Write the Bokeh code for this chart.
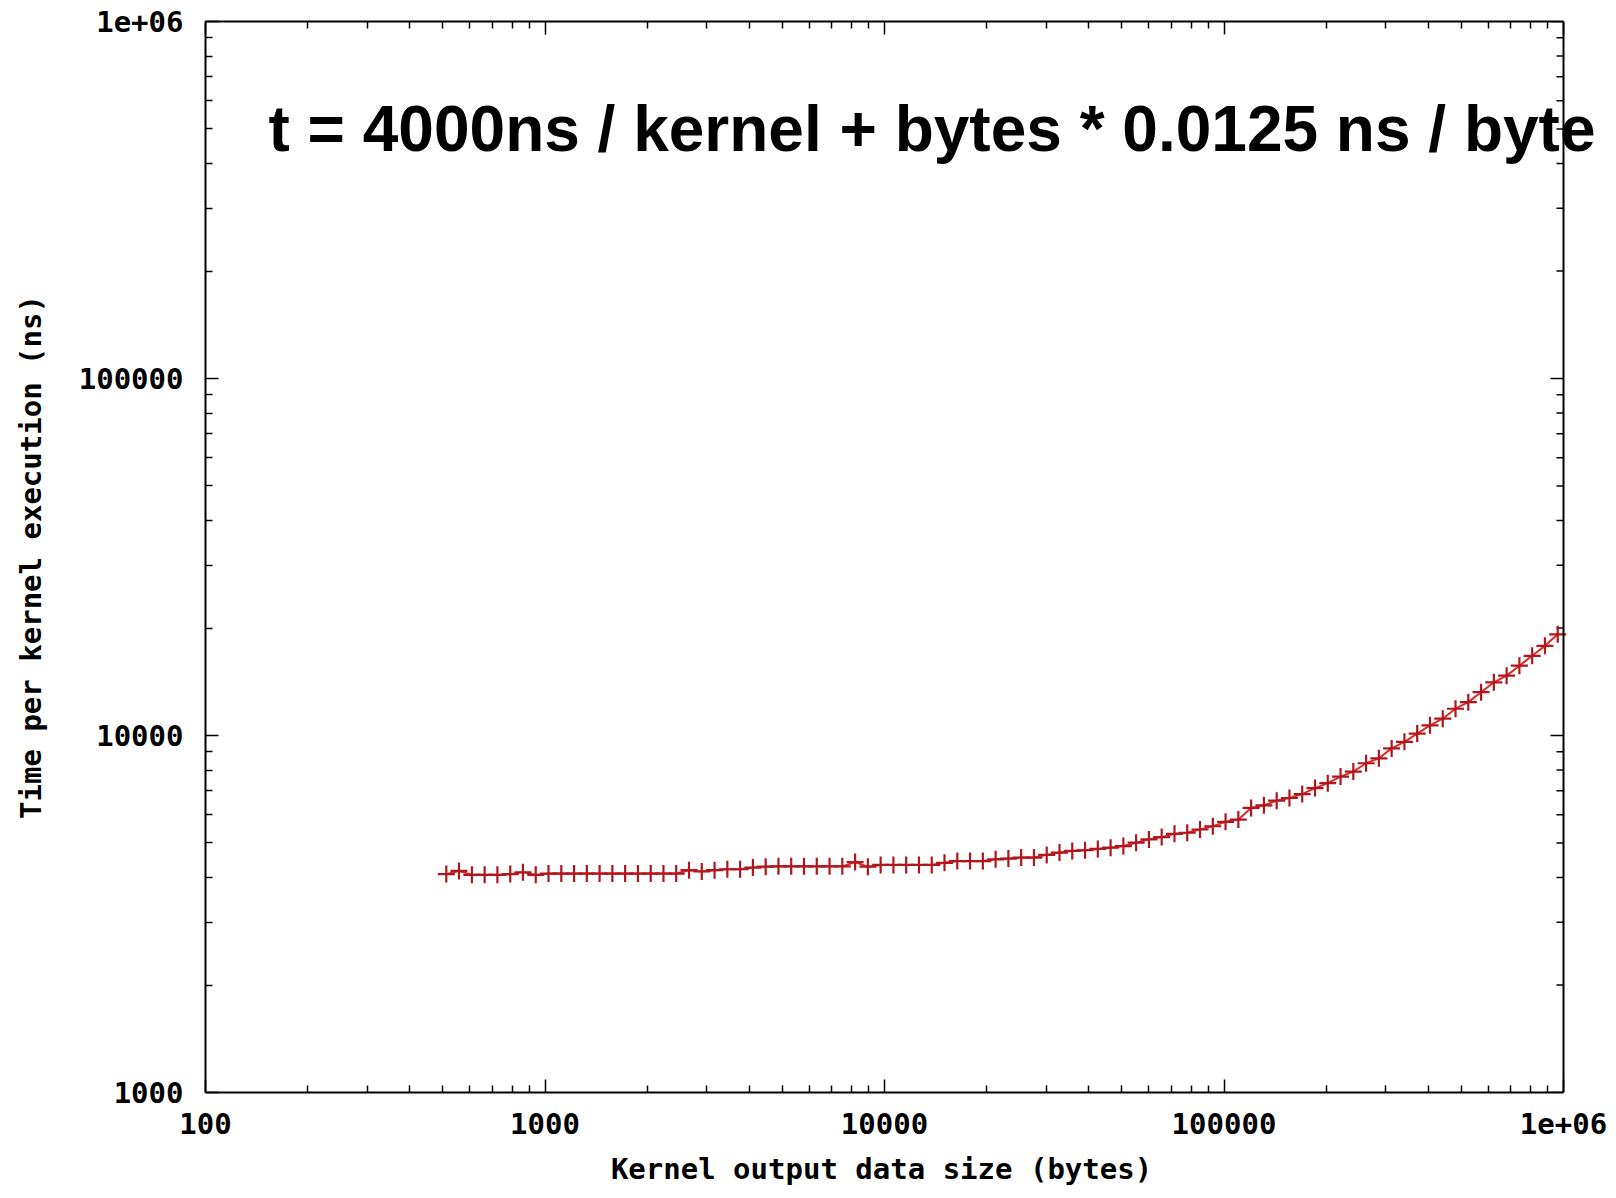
from bokeh.plotting import figure
from bokeh.models import LogAxis, FixedTicker, Label, BasicTickFormatter, ColumnDataSource, Span, Title
from bokeh.embed import file_html
from bokeh.resources import INLINE

# ---- data ----
x_bytes = [512, 558, 609, 664, 724, 790, 861, 939,
           1024, 1117, 1218, 1328, 1448, 1579, 1722, 1878,
           2048, 2233, 2435, 2656, 2896, 3158, 3444, 3756,
           4096, 4467, 4871, 5312, 5793, 6317, 6889, 7512,
           8192, 8933, 9742, 10624, 11585, 12634, 13777, 15024,
           16384, 17867, 19484, 21247, 23170, 25268, 27554, 30048,
           32768, 35734, 38968, 42495, 46341, 50535, 55109, 60097,
           65536, 71468, 77936, 84990, 92682, 101070, 110218, 120194,
           131072, 142935, 155872, 169979, 185364, 202141, 220436, 240387,
           262144, 285870, 311744, 339958, 370728, 404281, 440872, 480774,
           524288, 571740, 623487, 679917, 741455, 808563, 881744, 961548]

time_ns = [4090, 4175, 4070, 4070, 4070, 4090, 4140, 4070,
           4105, 4105, 4105, 4105, 4105, 4105, 4105, 4105,
           4105, 4105, 4105, 4195, 4160, 4195, 4220, 4220,
           4267, 4290, 4300, 4300, 4300, 4300, 4300, 4300,
           4420, 4290, 4340, 4340, 4340, 4340, 4340, 4400,
           4450, 4450, 4450, 4500, 4520, 4550, 4550, 4630,
           4700, 4750, 4770, 4810, 4851, 4902, 5008, 5117,
           5193, 5305, 5340, 5454, 5570, 5730, 5815, 6267,
           6373, 6568, 6682, 6855, 7122, 7355, 7672, 7922,
           8360, 8632, 9203, 9600, 10127, 10681, 11147, 11885,
           12400, 13220, 14094, 14712, 15686, 16723, 17828, 19210]

x_major = [100, 1000, 10000, 100000, 1000000]
x_major_labels = ["100", "1000", "10000", "100000", "1e+06"]
y_major = [1000, 10000, 100000, 1000000]
y_major_labels = ["1000", "10000", "100000", "1e+06"]
mantissas = [2, 3, 4, 5, 6, 7, 8, 9]

x_title = "Kernel output data size (bytes)"
y_title = "Time per kernel execution (ns)"
annotation = "t = 4000ns / kernel + bytes * 0.0125 ns / byte"

x_minor = [d * m for d in x_major[:-1] for m in mantissas]
y_minor = [d * m for d in y_major[:-1] for m in mantissas]

MONO = "DejaVu Sans Mono"
FS_PX = 29
FS = f"{FS_PX}px"

# ---- geometry (pixels) ----
W, H = 1616, 1198
LEFT, TOP, BOTTOM = 205, 21, 1100
AXIS_RIGHT = 1563          # where x = 1e6 sits (right border of the box)
FRAME_RIGHT = 1606         # frame extends a bit further so the annotation is not clipped
decade_px = (AXIS_RIGHT - LEFT) / 4.0
x_lo, x_hi = x_major[0], x_major[-1]
x_end = x_hi * 10 ** ((FRAME_RIGHT - AXIS_RIGHT) / decade_px)
MAJ, MIN = 13, 7

p = figure(width=W, height=H, x_axis_type="log", y_axis_type="log",
           x_range=(x_lo, x_end), y_range=(y_major[0], y_major[-1]),
           output_backend="svg", toolbar_location=None,
           min_border_left=LEFT, min_border_right=W - FRAME_RIGHT,
           min_border_top=TOP, min_border_bottom=H - BOTTOM)
p.grid.visible = False
p.outline_line_color = None
p.background_fill_color = "white"
p.border_fill_color = "white"


def style_axis(ax, ticks, minor, labels, show_labels):
    ax.ticker = FixedTicker(ticks=ticks, minor_ticks=minor)
    ax.formatter = BasicTickFormatter(use_scientific=False)
    ax.major_label_overrides = {t: l for t, l in zip(ticks, labels)}
    ax.major_tick_in = MAJ
    ax.major_tick_out = 0
    ax.minor_tick_in = MIN
    ax.minor_tick_out = 0
    ax.major_tick_line_color = "black"
    ax.minor_tick_line_color = "black"
    ax.major_tick_line_width = 1.5
    ax.minor_tick_line_width = 1.5
    ax.axis_line_color = "black"
    ax.axis_line_width = 2
    ax.major_label_text_font = MONO
    ax.major_label_text_font_style = "bold"
    ax.major_label_text_color = "black"
    ax.major_label_text_font_size = FS if show_labels else "0px"
    ax.axis_label_text_font = MONO
    ax.axis_label_text_font_style = "bold"
    ax.axis_label_text_font_size = FS
    ax.axis_label_text_color = "black"


xa = p.xaxis[0]
ya = p.yaxis[0]
style_axis(xa, x_major, x_minor, x_major_labels, True)
style_axis(ya, y_major, y_minor, y_major_labels, True)
xa.bounds = (x_lo, x_hi)
xa.major_label_text_line_height = 0.6
ya.axis_label = y_title
xa.major_label_standoff = 20
ya.major_label_standoff = 22
ya.axis_label_standoff = 28

# x-axis title, centred under the box (not under the widened frame)
title_w = len(x_title) * 0.602 * FS_PX
title_offset = (LEFT + AXIS_RIGHT) / 2.0 - 3 - title_w / 2.0 - LEFT
p.add_layout(Title(text=x_title, align="left", offset=title_offset, standoff=26,
                   vertical_align="bottom", text_line_height=0.7,
                   text_font=MONO, text_font_style="bold", text_font_size=FS,
                   text_color="black"), "below")

top = LogAxis()
style_axis(top, x_major, x_minor, [""] * len(x_major), False)
top.bounds = (x_lo, x_hi)
top.major_label_standoff = 0
p.add_layout(top, "above")

# right border of the box with inward ticks (mirror of the left axis)
p.add_layout(Span(location=x_hi, dimension="height", line_color="black", line_width=2))
maj_f = 10 ** (MAJ / decade_px)
min_f = 10 ** (MIN / decade_px)
p.segment(x0=[x_hi / maj_f] * len(y_major), x1=[x_hi] * len(y_major), y0=y_major, y1=y_major,
          line_color="black", line_width=1.5)
p.segment(x0=[x_hi / min_f] * len(y_minor), x1=[x_hi] * len(y_minor), y0=y_minor, y1=y_minor,
          line_color="black", line_width=1.5)

src = ColumnDataSource(dict(x=x_bytes, y=time_ns))
p.line("x", "y", source=src, line_color="#dd2a2a", line_width=2)
p.scatter("x", "y", source=src, marker="cross", size=17,
          line_color="#b0161c", line_width=2.2)

# annotation placed in data space (top-left of the plot box)
ann_x = x_lo * 10 ** ((268 - LEFT) / decade_px)
ydec_px = (BOTTOM - TOP) / 3.0
ann_y = y_major[0] * 10 ** ((BOTTOM - 129) / ydec_px)
p.add_layout(Label(x=ann_x, y=ann_y, text=annotation,
                   text_font="Liberation Sans", text_font_style="bold",
                   text_font_size="64px", text_baseline="alphabetic",
                   text_color="black"))

open("out.html", "w").write(file_html(p, INLINE))
